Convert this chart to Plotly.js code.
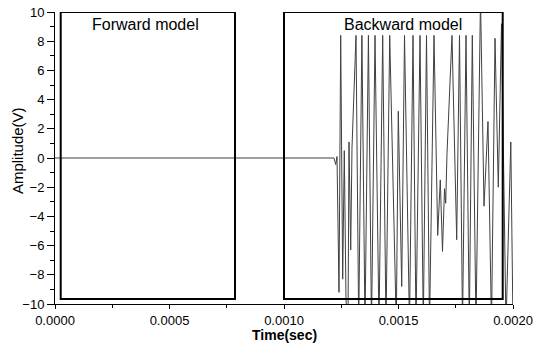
<!DOCTYPE html>
<html>
<head>
<meta charset="utf-8">
<script src="https://cdn.plot.ly/plotly-3.0.1.min.js"></script>
<style>
  html, body { margin: 0; padding: 0; background: #fff; }
  #chart { width: 533px; height: 343px; }
</style>
</head>
<body>
<div id="chart"></div>
<script>
// Time (s) of the signal's turning points
const timeSec = [
  0, 0.0012183, 0.0012258, 0.0012314, 0.0012402, 0.0012476, 0.0012563, 0.0012633,
  0.0012707, 0.0012795, 0.0012838, 0.0012913, 0.0012969, 0.0013144, 0.0013262,
  0.0013402, 0.0013537, 0.0013686, 0.0013821, 0.0013974, 0.0014148, 0.0014310,
  0.0014454, 0.0014616, 0.0014904, 0.0014991, 0.0015140, 0.0015262, 0.0015480,
  0.0015633, 0.0015764, 0.0015939, 0.0016083, 0.0016223, 0.0016354, 0.0016550,
  0.0016712, 0.0016825, 0.0016921, 0.0017009, 0.0017061, 0.0017118, 0.0017336,
  0.0017541, 0.0017664, 0.0017795, 0.0017948, 0.0018092, 0.0018223, 0.0018384,
  0.0018581, 0.0018734, 0.0018908, 0.0019061, 0.0019214, 0.0019358, 0.0019498,
  0.0019694, 0.0019904, 0.0020000
];
// Amplitude (V) at those points
const amplitudeV = [
  0, 0, -0.45, 0.1, -9.2, 8.4, -8.3, 0.5,
  -9.7, -11.5, 1.1, -6.3, 0.7, 8.4, -11.5,
  8.4, -11.5, 8.4, -11.5, 8.4, -11.5, 8.4,
  -11.5, 8.4, -11.5, 3.2, -8.8, 8.4, -11.5,
  8.4, -11.5, 8.4, -11.5, 8.4, -11.5, 8.4,
  -5.3, -1.5, -6.4, -2.1, -3.1, 0.3, 8.4,
  -5.6, 8.4, -11.5, 8.4, -11.5, 8.4, -11.5,
  11, -3.3, 2.5, -11.5, 8.2, -2.0, 9.2,
  -11.5, 1.1, -11.5
];
// Region boxes: [label, start time, end time]
const regionLabels = ["Forward model", "Backward model"];
const regionStart = [0.0000249, 0.0010];
const regionEnd = [0.000786, 0.001955];
const regionLow = -9.66;
const regionHigh = 10;
const xTicks = [0, 0.0005, 0.0010, 0.0015, 0.0020];
const xTickText = ["0.0000", "0.0005", "0.0010", "0.0015", "0.0020"];
const yTicks = [-10, -8, -6, -4, -2, 0, 2, 4, 6, 8, 10];
const xTitle = "Time(sec)";
const yTitle = "Amplitude(V)";

const FONT = "Arial, 'Liberation Sans', sans-serif";

const trace = {
  x: timeSec,
  y: amplitudeV,
  type: "scatter",
  mode: "lines",
  line: { color: "#404040", width: 1 },
  hoverinfo: "skip"
};

const shapes = regionLabels.map((_, i) => ({
  type: "rect", xref: "x", yref: "y",
  x0: regionStart[i], x1: regionEnd[i], y0: regionLow, y1: regionHigh,
  line: { color: "#000", width: 2 }, fillcolor: "rgba(0,0,0,0)"
}));

const annotations = regionLabels.map((lab, i) => ({
  text: lab, xref: "x", yref: "y",
  x: (regionStart[i] + regionEnd[i]) / 2 + (i === 0 ? -0.00001 : 0.00004),
  y: 9.15, showarrow: false, xanchor: "center", yanchor: "middle",
  font: { family: FONT, size: 16, color: "#000" }
}));

annotations.push({
  text: "<b>" + xTitle + "</b>", xref: "paper", yref: "paper",
  x: 0.5, y: -0.107, xanchor: "center", yanchor: "middle", showarrow: false,
  font: { family: FONT, size: 14, color: "#000" }
});
annotations.push({
  text: yTitle, xref: "paper", yref: "paper",
  x: -0.083, y: 0.527, xanchor: "center", yanchor: "middle",
  textangle: -90, showarrow: false,
  font: { family: FONT, size: 15, color: "#000" }
});

const layout = {
  width: 533, height: 343,
  margin: { l: 55, r: 20, t: 12, b: 39 },
  paper_bgcolor: "#fff", plot_bgcolor: "#fff",
  showlegend: false,
  font: { family: FONT, size: 13, color: "#000" },
  xaxis: {
    range: [0, 0.002], tickvals: xTicks, ticktext: xTickText,
    showgrid: false, zeroline: false,
    showline: true, linecolor: "#000", linewidth: 1,
    ticks: "outside", ticklen: 4, tickcolor: "#000", tickwidth: 1,
    minor: { dtick: 0.00025, ticks: "outside", ticklen: 3, tickcolor: "#000", showgrid: false },
    tickfont: { family: FONT, size: 13, color: "#000" }
  },
  yaxis: {
    range: [-10, 10], tickvals: yTicks,
    showgrid: false, zeroline: false,
    showline: true, linecolor: "#000", linewidth: 1,
    ticks: "outside", ticklen: 7, tickcolor: "#000", tickwidth: 1,
    minor: { dtick: 1, ticks: "outside", ticklen: 4, tickcolor: "#000", showgrid: false },
    tickfont: { family: FONT, size: 13, color: "#000" }
  },
  shapes: shapes,
  annotations: annotations
};

Plotly.newPlot("chart", [trace], layout, { staticPlot: true, displayModeBar: false });
</script>
</body>
</html>
